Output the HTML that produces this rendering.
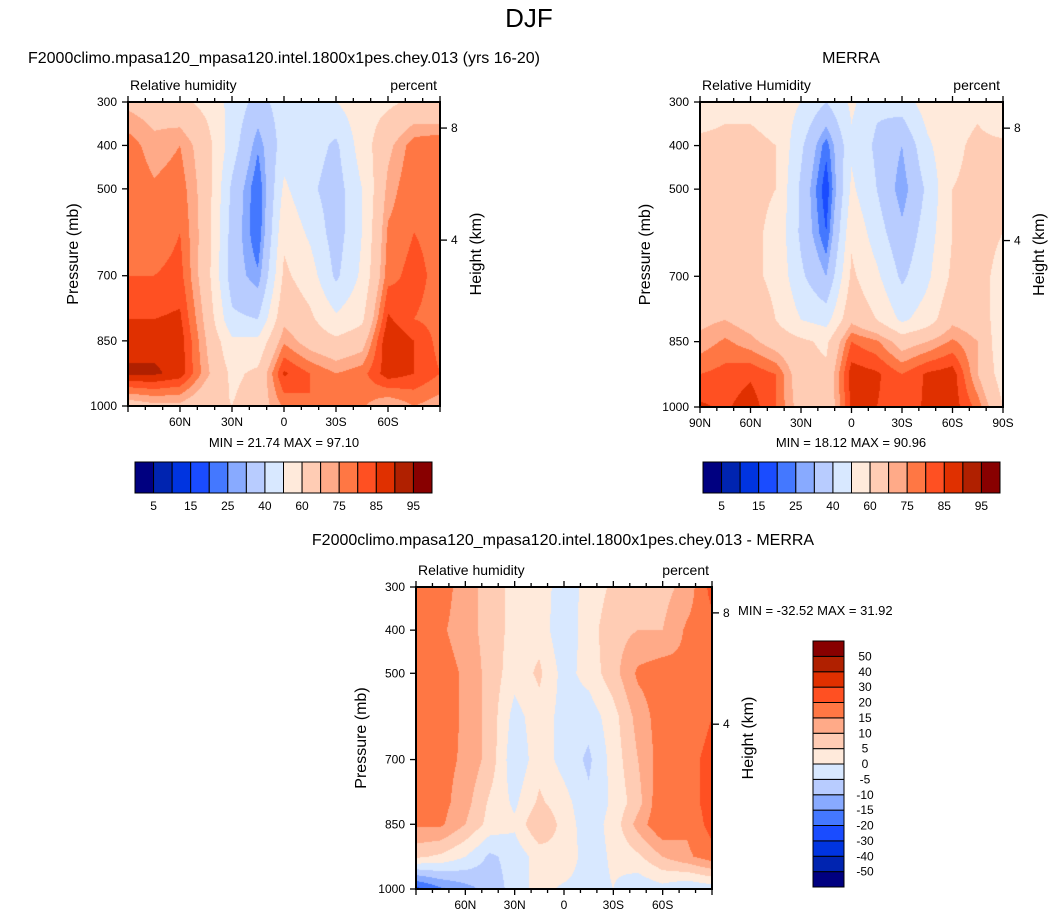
<!DOCTYPE html>
<html><head><meta charset="utf-8">
<style>
body{margin:0;background:#fff;width:1057px;height:921px;position:relative;overflow:hidden;font-family:"Liberation Sans",Arial,sans-serif}
canvas{position:absolute}
svg{position:absolute;left:0;top:0}
</style></head>
<body>
<canvas id="c1"></canvas>
<canvas id="c2"></canvas>
<canvas id="c3"></canvas>
<svg id="ov" width="1057" height="921"></svg>
<script>
const lats=[90,75,60,45,30,15,0,-15,-30,-45,-60,-75,-90];
const pressures=[300,400,500,600,700,800,850,925,1000];
const rhLevels=[5,10,15,20,25,30,40,50,60,70,75,80,85,90,95];
const rhLabels=["5","15","25","40","60","75","85","95"];
const diffLevels=[-50,-40,-30,-20,-15,-10,-5,0,5,10,15,20,30,40,50];
const diffLabels=["-50","-40","-30","-20","-15","-10","-5","0","5","10","15","20","30","40","50"];
const colors=["#000080","#0024b0","#0034e0","#1a4cff","#4478ff","#88aaff","#b8ccff","#d8e8ff","#ffeadb","#ffccb4","#ffaa88","#ff7744","#ff5022","#e03000","#b02000","#880000"];
const modelRH=[
[68,66,63,57,47,36,45,47,50,56,58,62,60],
[78,72,75,65,45,26,45,45,38,55,68,78,80],
[80,76,78,66,38,20,52,42,35,50,72,80,78],
[78,76,80,66,36,20,58,48,35,50,76,80,78],
[80,80,82,65,35,26,62,55,38,52,78,82,78],
[85,85,86,68,42,40,68,62,52,58,86,80,78],
[88,88,88,70,52,52,74,66,62,66,90,85,78],
[91,91,88,72,58,62,86,80,75,78,88,85,80],
[65,68,68,62,60,65,76,80,78,76,70,75,72]];
const merraRH=[
[55,58,58,56,50,40,52,42,45,55,56,58,50],
[62,62,62,60,42,22,48,38,30,48,58,62,62],
[62,62,62,60,38,16,52,40,26,42,60,62,62],
[62,62,62,58,38,20,58,45,32,45,60,62,60],
[62,62,62,58,42,30,62,52,38,48,62,62,58],
[68,70,66,60,50,46,68,60,48,55,68,65,55],
[72,76,72,66,62,58,80,76,66,70,76,70,52],
[80,82,84,80,64,62,88,86,80,86,88,70,55],
[86,84,88,80,66,62,86,85,82,86,88,78,60]];
const diffRH=[
[18,18,12,8,3,3,-3,2,6,8,8,12,22],
[16,16,12,8,3,3,-4,3,8,10,10,16,18],
[16,18,14,8,2,6,-2,2,8,16,18,16,18],
[16,18,14,8,-2,3,-2,-3,3,12,18,16,20],
[16,17,14,8,-4,3,-2,-6,2,10,18,18,22],
[16,17,12,4,-1,6,2,-4,1,8,20,18,22],
[16,16,10,3,1,10,3,-3,2,12,20,16,22],
[6,4,0,-6,-3,2,4,-3,1,4,10,14,18],
[-22,-16,-12,-8,-3,2,-1,-2,0,-4,-2,-5,-3]];

const NS="http://www.w3.org/2000/svg";
const ov=document.getElementById('ov');
function el(tag,attrs,txt){const e=document.createElementNS(NS,tag);for(const k in attrs)e.setAttribute(k,attrs[k]);if(txt!==undefined)e.textContent=txt;ov.appendChild(e);return e;}

function sample(data,lat,p){
  let fi=(90-lat)/15;fi=Math.max(0,Math.min(12,fi));
  let i0=Math.min(11,Math.floor(fi)),fx=fi-i0;
  let j0=0;while(j0<pressures.length-2&&p>pressures[j0+1])j0++;
  let fy=(p-pressures[j0])/(pressures[j0+1]-pressures[j0]);fy=Math.max(0,Math.min(1,fy));
  const a=data[j0][i0],b=data[j0][i0+1],c=data[j0+1][i0],d=data[j0+1][i0+1];
  return (a*(1-fx)+b*fx)*(1-fy)+(c*(1-fx)+d*fx)*fy;
}
function bin(v,levels){let k=0;while(k<levels.length&&v>=levels[k])k++;return k;}

function panel(id,x0,y0,w,h,data,levels,opts){
  const cv=document.getElementById(id);cv.width=w;cv.height=h;cv.style.left=x0+'px';cv.style.top=y0+'px';
  const ctx=cv.getContext('2d');
  const xs=lat=>x0+(90-lat)/180*w, ys=p=>y0+(p-300)/700*h;
  for(let py=0;py<h;py++){for(let px=0;px<w;px++){
    const lat=90-(px+0.5)/w*180,p=300+(py+0.5)/h*700;
    ctx.fillStyle=colors[bin(sample(data,lat,p),levels)];ctx.fillRect(px,py,1,1);}}
  const fr=el('rect',{x:x0,y:y0,width:w,height:h,fill:'none',stroke:'#000','stroke-width':2});
  
  for(let lat=90;lat>=-90;lat-=10){const x=xs(lat);const major=lat%30===0;const L=major?6:4;
    el('line',{x1:x,y1:y0,x2:x,y2:y0-L,stroke:'#000','stroke-width':1.3});
    el('line',{x1:x,y1:y0+h,x2:x,y2:y0+h+L,stroke:'#000','stroke-width':1.3});}
  const xl=opts.edgeLabels?[[90,'90N'],[60,'60N'],[30,'30N'],[0,'0'],[-30,'30S'],[-60,'60S'],[-90,'90S']]:[[60,'60N'],[30,'30N'],[0,'0'],[-30,'30S'],[-60,'60S']];
  xl.forEach(([lat,t])=>{const e=el('text',{x:xs(lat),y:y0+h+20,'font-size':12,'text-anchor':'middle'},t);
    });
  [300,400,500,700,850,1000].forEach(p=>{const y=ys(p);
    el('line',{x1:x0,y1:y,x2:x0-6,y2:y,stroke:'#000','stroke-width':1.3});
    const e=el('text',{x:x0-11,y:y+4,'font-size':12,'text-anchor':'end'},String(p));
    });
  [[360,'8'],[618,'4']].forEach(([p,t])=>{const y=ys(p);
    el('line',{x1:x0+w,y1:y,x2:x0+w+7,y2:y,stroke:'#000','stroke-width':1.3});
    const e=el('text',{x:x0+w+11,y:y+4,'font-size':12},t);
    });
  let e=el('text',{x:x0-50,y:y0+h/2,'font-size':16,'text-anchor':'middle',transform:`rotate(-90 ${x0-50} ${y0+h/2})`},'Pressure (mb)');
  
  e=el('text',{x:x0+w+41,y:y0+h/2,'font-size':16,'text-anchor':'middle',transform:`rotate(-90 ${x0+w+41} ${y0+h/2})`},'Height (km)');
  
  e=el('text',{x:x0+2,y:y0-12,'font-size':14},'Relative '+(opts.H?'Humidity':'humidity'));
  
  e=el('text',{x:x0+w-3,y:y0-12,'font-size':14,'text-anchor':'end'},'percent');
  
}
function hbar(x0,y0,w,h){
  const bw=w/16;colors.forEach((c,i)=>{const r=el('rect',{x:x0+i*bw,y:y0,width:bw,height:h,fill:c,stroke:'#000','stroke-width':1});
    });
  rhLabels.forEach((t,k)=>{const e=el('text',{x:x0+(2*k+1)*bw,y:y0+h+17,'font-size':12,'text-anchor':'middle'},t);
    });
}
function vbar(x0,y0,w,h){
  const bh=h/16;colors.forEach((c,i)=>{const r=el('rect',{x:x0,y:y0+(15-i)*bh,width:w,height:bh,fill:c,stroke:'#000','stroke-width':1});
    });
  diffLabels.forEach((t,k)=>{const e=el('text',{x:x0+w+21,y:y0+(15-k)*bh+4,'font-size':12,'text-anchor':'middle'},t);
    });
}
function txt(x,y,s,t,anchor,name){const e=el('text',{x:x,y:y,'font-size':s,'text-anchor':anchor||'middle'},t);
  }

panel('c1',128,102,312,304,modelRH,rhLevels,{name:'model',edgeLabels:false});
panel('c2',700,102,303,305,merraRH,rhLevels,{name:'merra',edgeLabels:true,H:true});
panel('c3',416,587,296,302,diffRH,diffLevels,{name:'diff',edgeLabels:false});
hbar(135,462,297,31);
hbar(703,462,297,31);
vbar(813,641,31,246);
txt(529,27,26,'DJF','middle','main-title');
txt(284,63,16,'F2000climo.mpasa120_mpasa120.intel.1800x1pes.chey.013 (yrs 16-20)','middle','model-title');
txt(851,63,16,'MERRA','middle','merra-title');
txt(563,545,16,'F2000climo.mpasa120_mpasa120.intel.1800x1pes.chey.013 - MERRA','middle','difference-title');
txt(284,447,13,'MIN = 21.74  MAX = 97.10','middle','model-min-max');
txt(851,447,13,'MIN = 18.12  MAX = 90.96','middle','merra-min-max');
txt(738,615,13,'MIN = -32.52  MAX = 31.92','start','diff-min-max');
</script>
</body></html>
